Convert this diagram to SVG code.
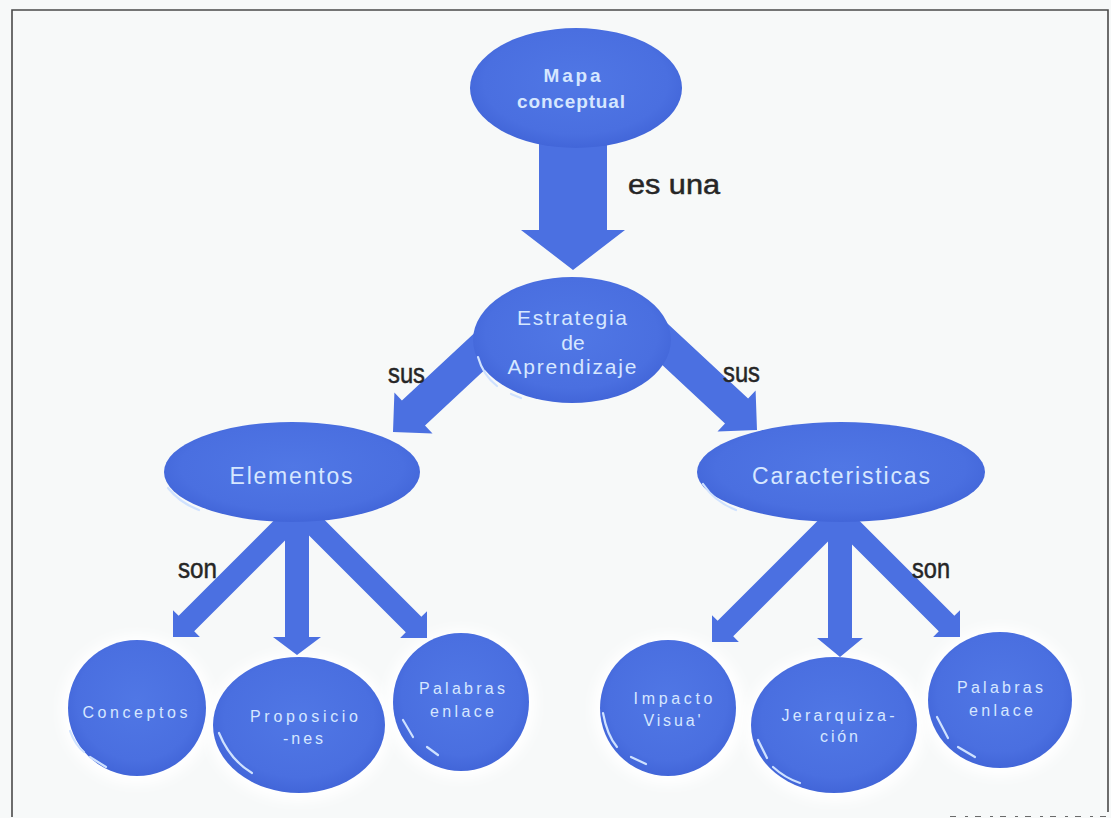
<svg xmlns="http://www.w3.org/2000/svg" width="1111" height="818" viewBox="0 0 1111 818">
  <defs>
    <radialGradient id="orb" cx="50%" cy="45%" r="62%">
      <stop offset="0" stop-color="#5077e5"/>
      <stop offset="0.7" stop-color="#4a6fe0"/>
      <stop offset="1" stop-color="#3d60d4"/>
    </radialGradient>
    <filter id="halo" x="-30%" y="-30%" width="160%" height="160%">
      <feGaussianBlur stdDeviation="6"/>
    </filter>
    <style>
      .node { fill: url(#orb); }
      .glow { fill: #ffffff; filter: url(#halo); }
      .arrow { fill: #4b70e1; }
      .shine { fill: none; stroke: #cfe2ff; stroke-width: 2.2; stroke-linecap: round; }
      .t { font-family: "Liberation Sans", Arial, sans-serif; fill: #d6e7ff; text-anchor: middle; }
      .lbl { font-family: "Liberation Sans", Arial, sans-serif; font-size: 27px; fill: #262626; stroke: #262626; stroke-width: 0.5; }
      .frame { fill: none; stroke: #4a4a4a; stroke-width: 1.6; }
    </style>
  </defs>

  <!-- page -->
  <rect x="0" y="0" width="1111" height="818" fill="#f7f9f9"/>
  <path class="frame" d="M12,817 V10 H1108 V812"/>
  <path d="M950,816.5 H1108" stroke="#6a6a6a" stroke-width="1" stroke-dasharray="6 9 3 7"/>

  <!-- soft halos -->
  <g id="halos">
    <ellipse class="glow" cx="137" cy="710" rx="76" ry="75"/>
    <ellipse class="glow" cx="299" cy="727" rx="92" ry="75"/>
    <ellipse class="glow" cx="461" cy="704" rx="75" ry="75"/>
    <ellipse class="glow" cx="669" cy="710" rx="76" ry="75"/>
    <ellipse class="glow" cx="835" cy="727" rx="90" ry="75"/>
    <ellipse class="glow" cx="1000" cy="702" rx="78" ry="75"/>
  </g>

  <!-- connectors -->
  <g id="connectors">
    <polygon class="arrow" points="539,138 539,230 521,230 573,270 625,230 607,230 607,138"/>
    <polygon class="arrow" points="483.6,324.4 401.9,400.6 394.4,392.5 393,432 432.5,433.4 425,425.4 506.8,349.2"/>
    <polygon class="arrow" points="643.2,347.2 725,423.4 717.5,431.4 757,430 755.6,390.5 748.1,398.6 666.4,322.4"/>
    <polygon class="arrow" points="285.4,509 178.65,615.79 173,610.14 173,637 199.86,637 194.21,631.35 301,524.6"/>
    <polygon class="arrow" points="285,515 285,637 273,637 297,655 321,637 309,637 309,515"/>
    <polygon class="arrow" points="299,525.6 405.79,632.35 400.14,638 427,638 427,611.14 421.35,616.79 314.6,510"/>
    <polygon class="arrow" points="824.4,514 717.65,620.79 712,615.14 712,642 738.86,642 733.21,636.35 840,529.6"/>
    <polygon class="arrow" points="828,515 828,638 817,638 840,657 863,638 852,638 852,515"/>
    <polygon class="arrow" points="832,524.6 938.79,631.35 933.14,637 960,637 960,610.14 954.35,615.79 847.6,509"/>
  </g>

  <!-- link labels -->
  <g id="labels">
    <text class="lbl" x="628" y="194" textLength="92" lengthAdjust="spacingAndGlyphs">es una</text>
    <text class="lbl" x="388" y="383" textLength="37" lengthAdjust="spacingAndGlyphs">sus</text>
    <text class="lbl" x="723" y="382" textLength="37" lengthAdjust="spacingAndGlyphs">sus</text>
    <text class="lbl" x="178" y="578" textLength="39" lengthAdjust="spacingAndGlyphs">son</text>
    <text class="lbl" x="912" y="578" textLength="38" lengthAdjust="spacingAndGlyphs">son</text>
  </g>

  <g id="mapa">
    <ellipse class="node" cx="576" cy="88" rx="106" ry="60"/>
    <text class="t" x="572" y="82" font-size="19" font-weight="bold" textLength="57">Mapa</text>
    <text class="t" x="571" y="108" font-size="19" font-weight="bold" textLength="108">conceptual</text>
  </g>

  <g id="estrategia">
    <ellipse class="node" cx="572" cy="340" rx="99" ry="63"/>
    <path class="shine" d="M478,357 Q483,375 497,386"/>
    <path class="shine" d="M511,394 L521,398"/>
    <text class="t" x="572" y="325" font-size="21" textLength="110">Estrategia</text>
    <text class="t" x="573" y="350" font-size="21">de</text>
    <text class="t" x="572" y="374" font-size="21" textLength="129">Aprendizaje</text>
  </g>

  <g id="elementos">
    <ellipse class="node" cx="292" cy="472" rx="128" ry="50"/>
    <path class="shine" d="M168,488 Q180,503 199,510"/>
    <text class="t" x="291" y="484" font-size="23" textLength="123">Elementos</text>
  </g>

  <g id="caracteristicas">
    <ellipse class="node" cx="841" cy="472" rx="144" ry="50"/>
    <path class="shine" d="M703,484 Q715,502 736,510"/>
    <text class="t" x="841" y="484" font-size="23" textLength="178">Caracteristicas</text>
  </g>

  <g id="conceptos">
    <ellipse class="node" cx="137" cy="708" rx="69" ry="68"/>
    <path class="shine" d="M70,731 Q75,745 84,752"/>
    <path class="shine" d="M90,757 L106,767"/>
    <text class="t" x="135" y="718" font-size="16" textLength="105">Conceptos</text>
  </g>

  <g id="proposiciones">
    <ellipse class="node" cx="299" cy="725" rx="86" ry="68"/>
    <path class="shine" d="M219,733 Q230,760 252,773"/>
    <text class="t" x="304" y="722" font-size="16" textLength="108">Proposicio</text>
    <text class="t" x="303" y="744" font-size="16" textLength="40">-nes</text>
  </g>

  <g id="palabras-enlace-1">
    <ellipse class="node" cx="461" cy="702" rx="68" ry="69"/>
    <path class="shine" d="M403,720 L413,737"/>
    <path class="shine" d="M427,747 L438,755"/>
    <text class="t" x="462" y="694" font-size="16" textLength="86">Palabras</text>
    <text class="t" x="462" y="717" font-size="16" textLength="64">enlace</text>
  </g>

  <g id="impacto-visual">
    <ellipse class="node" cx="668" cy="708" rx="68" ry="68"/>
    <path class="shine" d="M603,713 Q607,735 617,747"/>
    <path class="shine" d="M631,757 L646,764"/>
    <text class="t" x="673" y="704" font-size="16" textLength="79">Impacto</text>
    <text class="t" x="672" y="726" font-size="16" textLength="57">Visua'</text>
  </g>

  <g id="jerarquizacion">
    <ellipse class="node" cx="834" cy="725" rx="83" ry="68"/>
    <path class="shine" d="M758,740 L767,758"/>
    <path class="shine" d="M773,767 Q785,778 800,783"/>
    <text class="t" x="838" y="721" font-size="16" textLength="113">Jerarquiza-</text>
    <text class="t" x="839" y="742" font-size="16" textLength="38">ción</text>
  </g>

  <g id="palabras-enlace-2">
    <ellipse class="node" cx="1000" cy="700" rx="72" ry="68"/>
    <path class="shine" d="M937,717 L948,738"/>
    <path class="shine" d="M958,747 L975,757"/>
    <text class="t" x="1000" y="693" font-size="16" textLength="86">Palabras</text>
    <text class="t" x="1001" y="716" font-size="16" textLength="64">enlace</text>
  </g>
</svg>
